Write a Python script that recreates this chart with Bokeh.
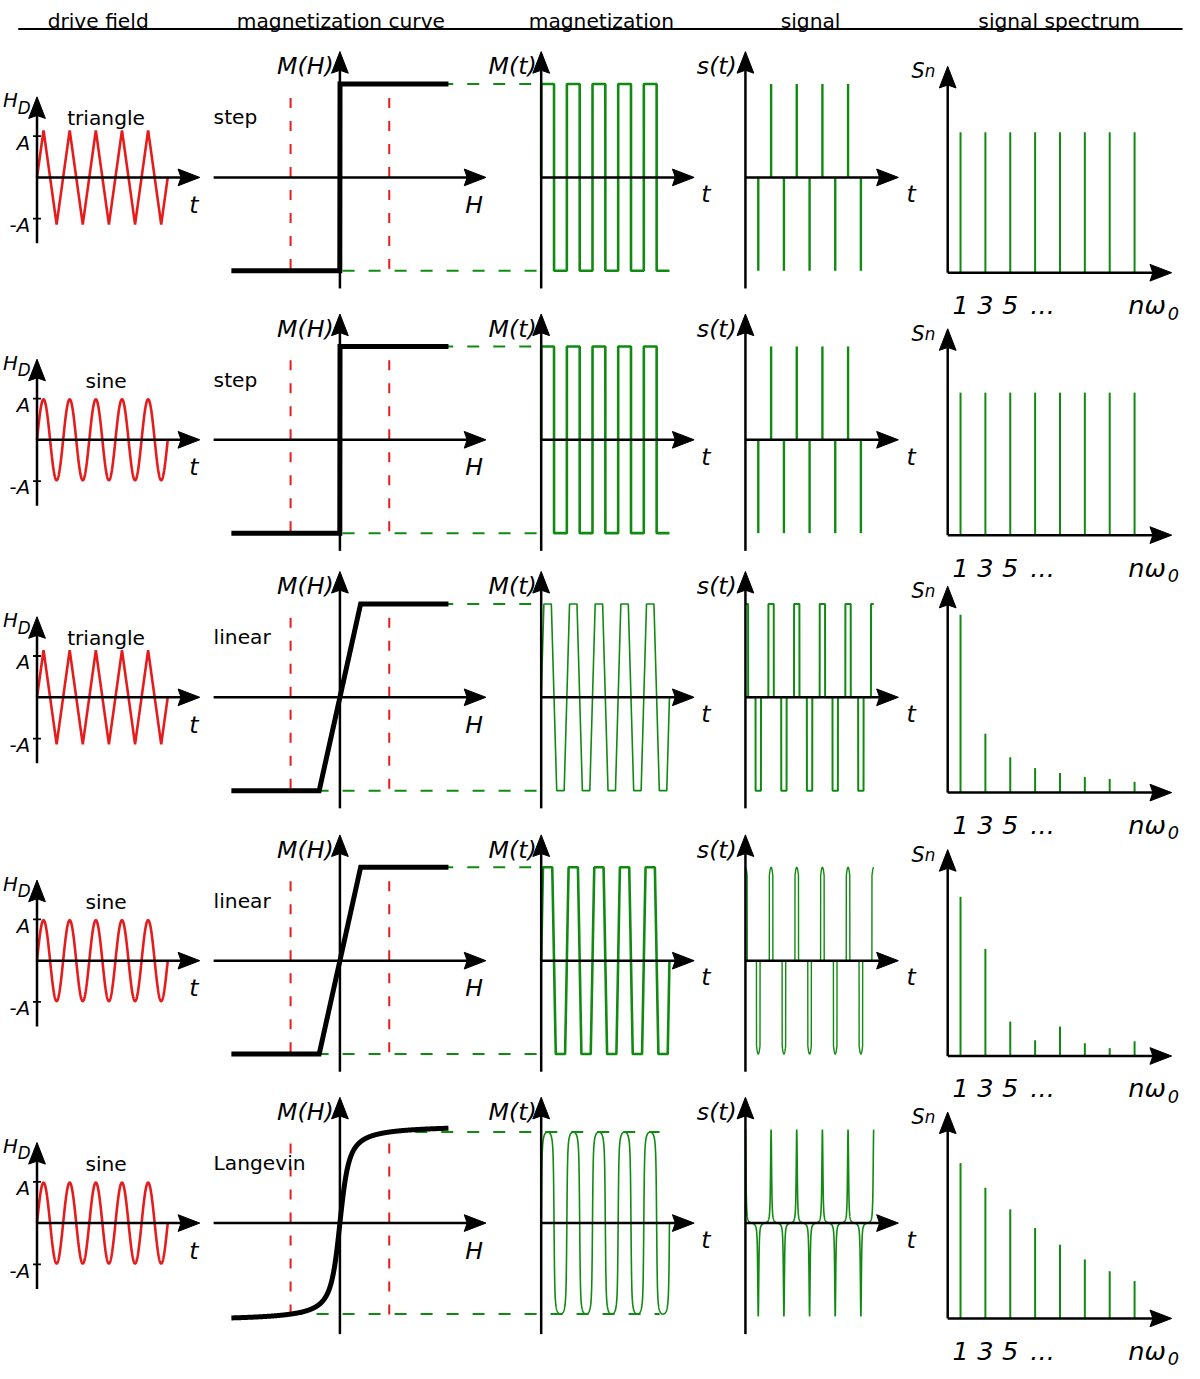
import numpy as np
from bokeh.plotting import figure
from bokeh.models import Range1d
from bokeh.core.properties import value
from bokeh.embed import file_html
from bokeh.resources import INLINE

# ------------------------------------------------------------------ data
column_titles = ["drive field", "magnetization curve", "magnetization", "signal", "signal spectrum"]
drive_kinds = ["triangle", "sine", "triangle", "sine", "sine"]
curve_kinds = ["step", "step", "linear", "linear", "Langevin"]
drive_amplitude = [1.14, 0.98, 1.14, 0.98, 0.98]   # peak of H_D relative to the tick A
n_periods = 5
linear_saturation = 0.42      # |H|/A at which the linear curve saturates
langevin_beta = 14.0          # beta*A of the Langevin curve
langevin_ms = 1.05            # Langevin saturation relative to the step level
mh_extent = 2.2               # H range drawn on the magnetization curve (units of A)
guide_level = 0.98            # height of the red guide lines (units of M_s)
harmonics = [1, 3, 5, 7, 9, 11, 13, 15]
spectrum_row1 = [143, 143, 143, 143, 143, 143, 143, 143]
spectrum_row2 = [145, 145, 145, 145, 145, 145, 145, 145]
spectrum_row3 = [181, 60, 36, 25, 20, 16, 14, 11]
spectrum_row4 = [162, 109, 35, 16, 30, 13, 8, 15]
spectrum_row5 = [158, 133, 111, 92, 75, 60, 48, 38]
spectra = [spectrum_row1, spectrum_row2, spectrum_row3, spectrum_row4, spectrum_row5]
harmonic_tick_labels = ["1", "3", "5", "..."]
harmonic_tick_positions = [1, 3, 5, 7.6]

# ------------------------------------------------------------------ layout
X_LEFT, X_RIGHT = 0, 1200
Y_TOP, Y_BOT = 0, 1394
FIG_W, FIG_H = 1184, 1370
S = 0.5 * (FIG_W / (X_RIGHT - X_LEFT) + FIG_H / (Y_BOT - Y_TOP))
row_y = [180, 447, 709, 977, 1244]
col_title_x = [99, 345, 609, 821, 1073]

RED = "#e61c1c"
GREEN = "#118a11"
FONT = value("DejaVu Sans")

p = figure(width=FIG_W, height=FIG_H, x_range=Range1d(X_LEFT, X_RIGHT), y_range=Range1d(Y_BOT, Y_TOP),
           x_axis_type=None, y_axis_type=None, output_backend="svg",
           toolbar_location=None, min_border=0)
p.grid.visible = False
p.outline_line_color = None
p.background_fill_color = "white"
p.border_fill_color = "white"


def panel(name, x0, sx, y0, sy):
    """data u -> x = x0 + sx*u ; data v -> y = y0 - sy*v (reference pixels)"""
    p.extra_x_ranges[name] = Range1d(start=(X_LEFT - x0) / sx, end=(X_RIGHT - x0) / sx)
    p.extra_y_ranges[name] = Range1d(start=(y0 - Y_BOT) / sy, end=(y0 - Y_TOP) / sy)
    return dict(x_range_name=name, y_range_name=name)


def txt(x, y, s, size, italic=False, align="center", baseline="alphabetic", **kw):
    p.text(x=[x], y=[y], text=[s], text_font=FONT,
           text_font_size=value(f"{size * S:.2f}px"),
           text_font_style="italic" if italic else "normal",
           text_align=align, text_baseline=baseline, text_color="black", **kw)


AX_W, HEAD_L, HEAD_HW, NOTCH = 2.5, 22, 8.5, 3
segs = {"x0": [], "y0": [], "x1": [], "y1": []}
heads_x, heads_y = [], []


def seg(x0, y0, x1, y1):
    segs["x0"].append(x0); segs["y0"].append(y0); segs["x1"].append(x1); segs["y1"].append(y1)


def up_arrow(x, y_bot, y_tip):
    seg(x, y_bot, x, y_tip + HEAD_L - NOTCH)
    heads_x.append([x, x + HEAD_HW, x, x - HEAD_HW])
    heads_y.append([y_tip, y_tip + HEAD_L, y_tip + HEAD_L - NOTCH, y_tip + HEAD_L])


def right_arrow(x_left, x_tip, y):
    seg(x_left, y, x_tip - HEAD_L + NOTCH, y)
    heads_x.append([x_tip, x_tip - HEAD_L, x_tip - HEAD_L + NOTCH, x_tip - HEAD_L])
    heads_y.append([y, y - HEAD_HW, y, y + HEAD_HW])


t = np.linspace(0, n_periods, 4001)


def drive_wave(kind):
    if kind == "triangle":
        return (2 / np.pi) * np.arcsin(np.sin(2 * np.pi * t))
    return np.sin(2 * np.pi * t)


def magnetization(kind, h):
    h = np.asarray(h, dtype=float)
    if kind == "step":
        return np.sign(h)
    if kind == "linear":
        return np.clip(h / linear_saturation, -1, 1)
    x = langevin_beta * h
    with np.errstate(divide="ignore", invalid="ignore"):
        L = np.where(np.abs(x) < 1e-6, x / 3, 1 / np.tanh(x) - 1 / x)
    return langevin_ms * L


# ------------------------------------------------------------------ header
for cx, title in zip(col_title_x, column_titles):
    txt(cx, 21, title, 20.5)
p.segment(x0=[18], y0=[29], x1=[1198], y1=[29], line_color="black", line_width=2)

# ------------------------------------------------------------------ rows
green_end_px = [548, 548, 548, 548, 668]
mt_width = [2.6, 2.6, 1.6, 2.6, 1.6]
sig_width = [2.4, 2.4, 2.0, 1.4, 1.6]

for r, yc in enumerate(row_y):
    dk, ck = drive_kinds[r], curve_kinds[r]
    yb = yc + 97
    drv = panel(f"drv{r}", 37, 26.5, yc, 42)
    mh = panel(f"mh{r}", 344, 50, yc, 95)
    mt = panel(f"mt{r}", 548, 26, yc, 95)
    sg = panel(f"sg{r}", 755, 26, yc, 95)
    sp = panel(f"sp{r}", 960.4, 12.6, yb, 1)

    h_norm = drive_wave(dk)
    m_t = magnetization(ck, h_norm)
    level = float(magnetization(ck, 1.0))

    # red guide lines at H = +-A
    p.segment(x0=[-1, 1], y0=[-guide_level] * 2, x1=[-1, 1], y1=[guide_level] * 2,
              line_color=RED, line_width=2, line_dash="10 13", **mh)
    # green projection lines
    p.segment(x0=[344 + 50 * 1, 344 - 50 * 1], y0=[level, -level],
              x1=[green_end_px[r]] * 2, y1=[level, -level],
              line_color=GREEN, line_width=2, line_dash="12 14", y_range_name=f"mh{r}")

    # drive field
    p.line(t, drive_amplitude[r] * h_norm, line_color=RED, line_width=2.6, **drv)
    p.segment(x0=[33, 33], y0=[1, -1], x1=[41, 41], y1=[1, -1], line_color="black",
              line_width=1.8, x_range_name="default", y_range_name=f"drv{r}")

    # magnetization M(t)
    p.line(t, m_t, line_color=GREEN, line_width=mt_width[r], **mt)

    # signal s(t)
    if ck == "step":
        d = np.diff(m_t)
        idx = np.where(np.abs(d) > 1.5)[0]
        ts = (t[idx] + t[idx + 1]) / 2
        p.segment(x0=ts, y0=np.zeros_like(ts), x1=ts, y1=np.sign(d[idx]),
                  line_color=GREEN, line_width=sig_width[r], **sg)
    else:
        s = np.gradient(m_t, t)
        s = s / np.abs(s).max()
        p.line(t, s, line_color=GREEN, line_width=sig_width[r], **sg)

    # spectrum
    p.segment(x0=harmonics, y0=[0] * len(harmonics), x1=harmonics, y1=spectra[r],
              line_color=GREEN, line_width=2, **sp)

    # axes
    up_arrow(37, yc + 67, yc - 82)
    right_arrow(37, 202, yc)
    up_arrow(344, yc + 113, yc - 128)
    right_arrow(216, 492, yc)
    up_arrow(548, yc + 113, yc - 128)
    right_arrow(548, 703, yc)
    up_arrow(755, yc + 113, yc - 128)
    right_arrow(755, 910, yc)
    up_arrow(960, yb, yb - 210)
    right_arrow(960, 1187, yb)

    # magnetization curve M(H)
    hh = np.linspace(-mh_extent, mh_extent, 2001)
    p.line(hh, magnetization(ck, hh), line_color="black", line_width=5,
           line_join="miter", **mh)

    # labels
    txt(10, yc - 78, "H", 20, italic=True)
    txt(24, yc - 71, "D", 17, italic=True)
    txt(30, yc - 35, "A", 20, italic=True, align="right")
    txt(30, yc + 49, "-A", 20, italic=True, align="right")
    txt(107, yc - 60, dk, 20.5)
    txt(196, yc + 28, "t", 24, italic=True)

    txt(309, yc - 113, "M(H)", 24, italic=True)
    txt(480, yc + 28, "H", 24, italic=True)
    txt(216, yc - 61, ck, 20.5, align="left")

    txt(519, yc - 113, "M(t)", 24, italic=True)
    txt(715, yc + 17, "t", 24, italic=True)

    txt(726, yc - 113, "s(t)", 24, italic=True)
    txt(923, yc + 17, "t", 24, italic=True)

    txt(930, yb - 205, "S", 21, italic=True)
    txt(942, yb - 205, "n", 17, italic=True)
    for pos, lab in zip(harmonic_tick_positions, harmonic_tick_labels):
        txt(pos, yb + 33, lab, 26, italic=True, x_range_name=f"sp{r}", y_range_name="default")
    txt(1143, yb + 33, "nω", 26, italic=True, align="left")
    txt(1183, yb + 41, "0", 18, italic=True, align="left")

p.segment(x0=segs["x0"], y0=segs["y0"], x1=segs["x1"], y1=segs["y1"],
          line_color="black", line_width=AX_W)
p.patches(xs=heads_x, ys=heads_y, fill_color="black", line_color="black", line_width=1)

open("out.html", "w").write(file_html(p, INLINE))
